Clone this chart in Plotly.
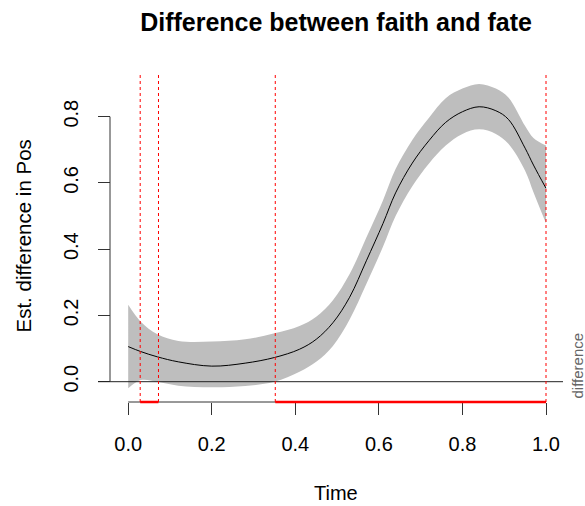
import plotly.graph_objects as go

# ---- data ----
time = [0.00, 0.03, 0.07, 0.12, 0.20, 0.28, 0.35, 0.41, 0.45, 0.49, 0.53, 0.57,
        0.61, 0.64, 0.68, 0.72, 0.76, 0.80, 0.84, 0.88, 0.91, 0.95, 0.97, 1.00]
fit = [0.106, 0.091, 0.075, 0.060, 0.047, 0.056, 0.073, 0.098, 0.128, 0.178, 0.255, 0.365,
       0.478, 0.570, 0.660, 0.728, 0.783, 0.815, 0.830, 0.818, 0.792, 0.705, 0.654, 0.584]
upper = [0.232, 0.181, 0.143, 0.123, 0.121, 0.128, 0.146, 0.168, 0.196, 0.246, 0.325, 0.435,
         0.548, 0.642, 0.730, 0.797, 0.856, 0.885, 0.899, 0.885, 0.858, 0.772, 0.736, 0.713]
lower = [-0.020, 0.005, 0.000, -0.012, -0.017, -0.013, 0.000, 0.030, 0.060, 0.108, 0.188, 0.295,
         0.408, 0.500, 0.590, 0.659, 0.713, 0.748, 0.762, 0.748, 0.718, 0.637, 0.572, 0.478]

sig_start = [0.0287, 0.352]
sig_end = [0.0725, 1.0]

x_ticks = [0.0, 0.2, 0.4, 0.6, 0.8, 1.0]
x_ticklabels = ["0.0", "0.2", "0.4", "0.6", "0.8", "1.0"]
y_ticks = [0.0, 0.2, 0.4, 0.6, 0.8]
y_ticklabels = ["0.0", "0.2", "0.4", "0.6", "0.8"]

title = "Difference between faith and fate"
xlab = "Time"
ylab = "Est. difference in Pos"
side_label = "difference"

FONT = "Liberation Sans, Arial, sans-serif"
W, H = 585, 506
ML, MR, MT, MB = 98, 22, 60, 104
PW, PH = W - ML - MR, H - MT - MB


def px_x(p):
    return (p - ML) / PW


def px_y(p):
    return (H - MB - p) / PH


fig = go.Figure()
fig.add_trace(go.Scatter(x=time, y=lower, mode="lines",
                         line=dict(width=0, shape="spline", color="#BEBEBE"),
                         hoverinfo="skip", showlegend=False))
fig.add_trace(go.Scatter(x=time, y=upper, mode="lines", fill="tonexty",
                         fillcolor="#BEBEBE", line=dict(width=0, shape="spline", color="#BEBEBE"),
                         hoverinfo="skip", showlegend=False))
fig.add_trace(go.Scatter(x=time, y=fit, mode="lines",
                         line=dict(color="black", width=1, shape="spline"),
                         showlegend=False))

shapes = []
# horizontal zero line
shapes.append(dict(type="line", xref="paper", yref="y", x0=0, x1=1, y0=0, y1=0,
                   line=dict(color="#222", width=1), layer="above"))
# y axis line (0 .. 0.8)
shapes.append(dict(type="line", xref="paper", yref="y", x0=px_x(110), x1=px_x(110),
                   y0=y_ticks[0], y1=y_ticks[-1], line=dict(color="#333", width=1), layer="above"))
# x axis line (0 .. 1)
shapes.append(dict(type="line", xref="x", yref="paper", x0=x_ticks[0], x1=x_ticks[-1],
                   y0=0, y1=0, line=dict(color="#333", width=1), layer="above"))
# significance markers
for s, e in zip(sig_start, sig_end):
    shapes.append(dict(type="line", xref="x", yref="paper", x0=s, x1=e, y0=0, y1=0,
                       line=dict(color="red", width=2.5), layer="above"))
    for v in (s, e):
        shapes.append(dict(type="line", xref="x", yref="paper", x0=v, x1=v,
                           y0=0, y1=px_y(75), line=dict(color="red", width=1, dash="dot"),
                           layer="above"))

annotations = [
    dict(text=xlab, xref="paper", yref="paper", x=px_x(336), y=px_y(493),
         showarrow=False, font=dict(size=20, color="black", family=FONT),
         xanchor="center", yanchor="middle"),
    dict(text=ylab, xref="paper", yref="paper", x=px_x(22.5), y=px_y(236),
         showarrow=False, textangle=-90, font=dict(size=20.5, color="black", family=FONT),
         xanchor="center", yanchor="middle"),
    dict(text=side_label, xref="paper", yref="paper", x=px_x(576.5), y=px_y(366),
         showarrow=False, textangle=-90, font=dict(size=15, color="#666", family=FONT),
         xanchor="center", yanchor="middle"),
]

x0 = 128.2
scale = 417.8
y0px = 381.7
yscale = 331.25

fig.update_layout(
    width=W, height=H,
    margin=dict(l=ML, r=MR, t=MT, b=MB, pad=0),
    paper_bgcolor="white", plot_bgcolor="white",
    title=dict(text="<b>" + title + "</b>", x=336 / W, xanchor="center",
               y=1 - 22 / H, yanchor="middle",
               font=dict(size=25, color="black", family=FONT)),
    xaxis=dict(range=[(ML - x0) / scale, (W - MR - x0) / scale],
               tickvals=x_ticks, ticktext=x_ticklabels, ticks="outside", ticklen=12,
               tickcolor="#333", tickwidth=1, showline=False, showgrid=False,
               zeroline=False, automargin=False, ticklabelstandoff=12,
               tickfont=dict(size=20, color="black", family=FONT)),
    yaxis=dict(range=[(y0px - (H - MB)) / yscale, (y0px - MT) / yscale],
               tickvals=y_ticks, ticktext=y_ticklabels, ticks="outside", ticklen=12,
               tickcolor="#333", tickwidth=1, showline=False, showgrid=False,
               zeroline=False, automargin=False, anchor="free", position=px_x(110),
               tickangle=-90, ticklabelstandoff=12,
               tickfont=dict(size=20, color="black", family=FONT)),
    shapes=shapes, annotations=annotations,
    showlegend=False,
)

fig.write_html("out.html")
